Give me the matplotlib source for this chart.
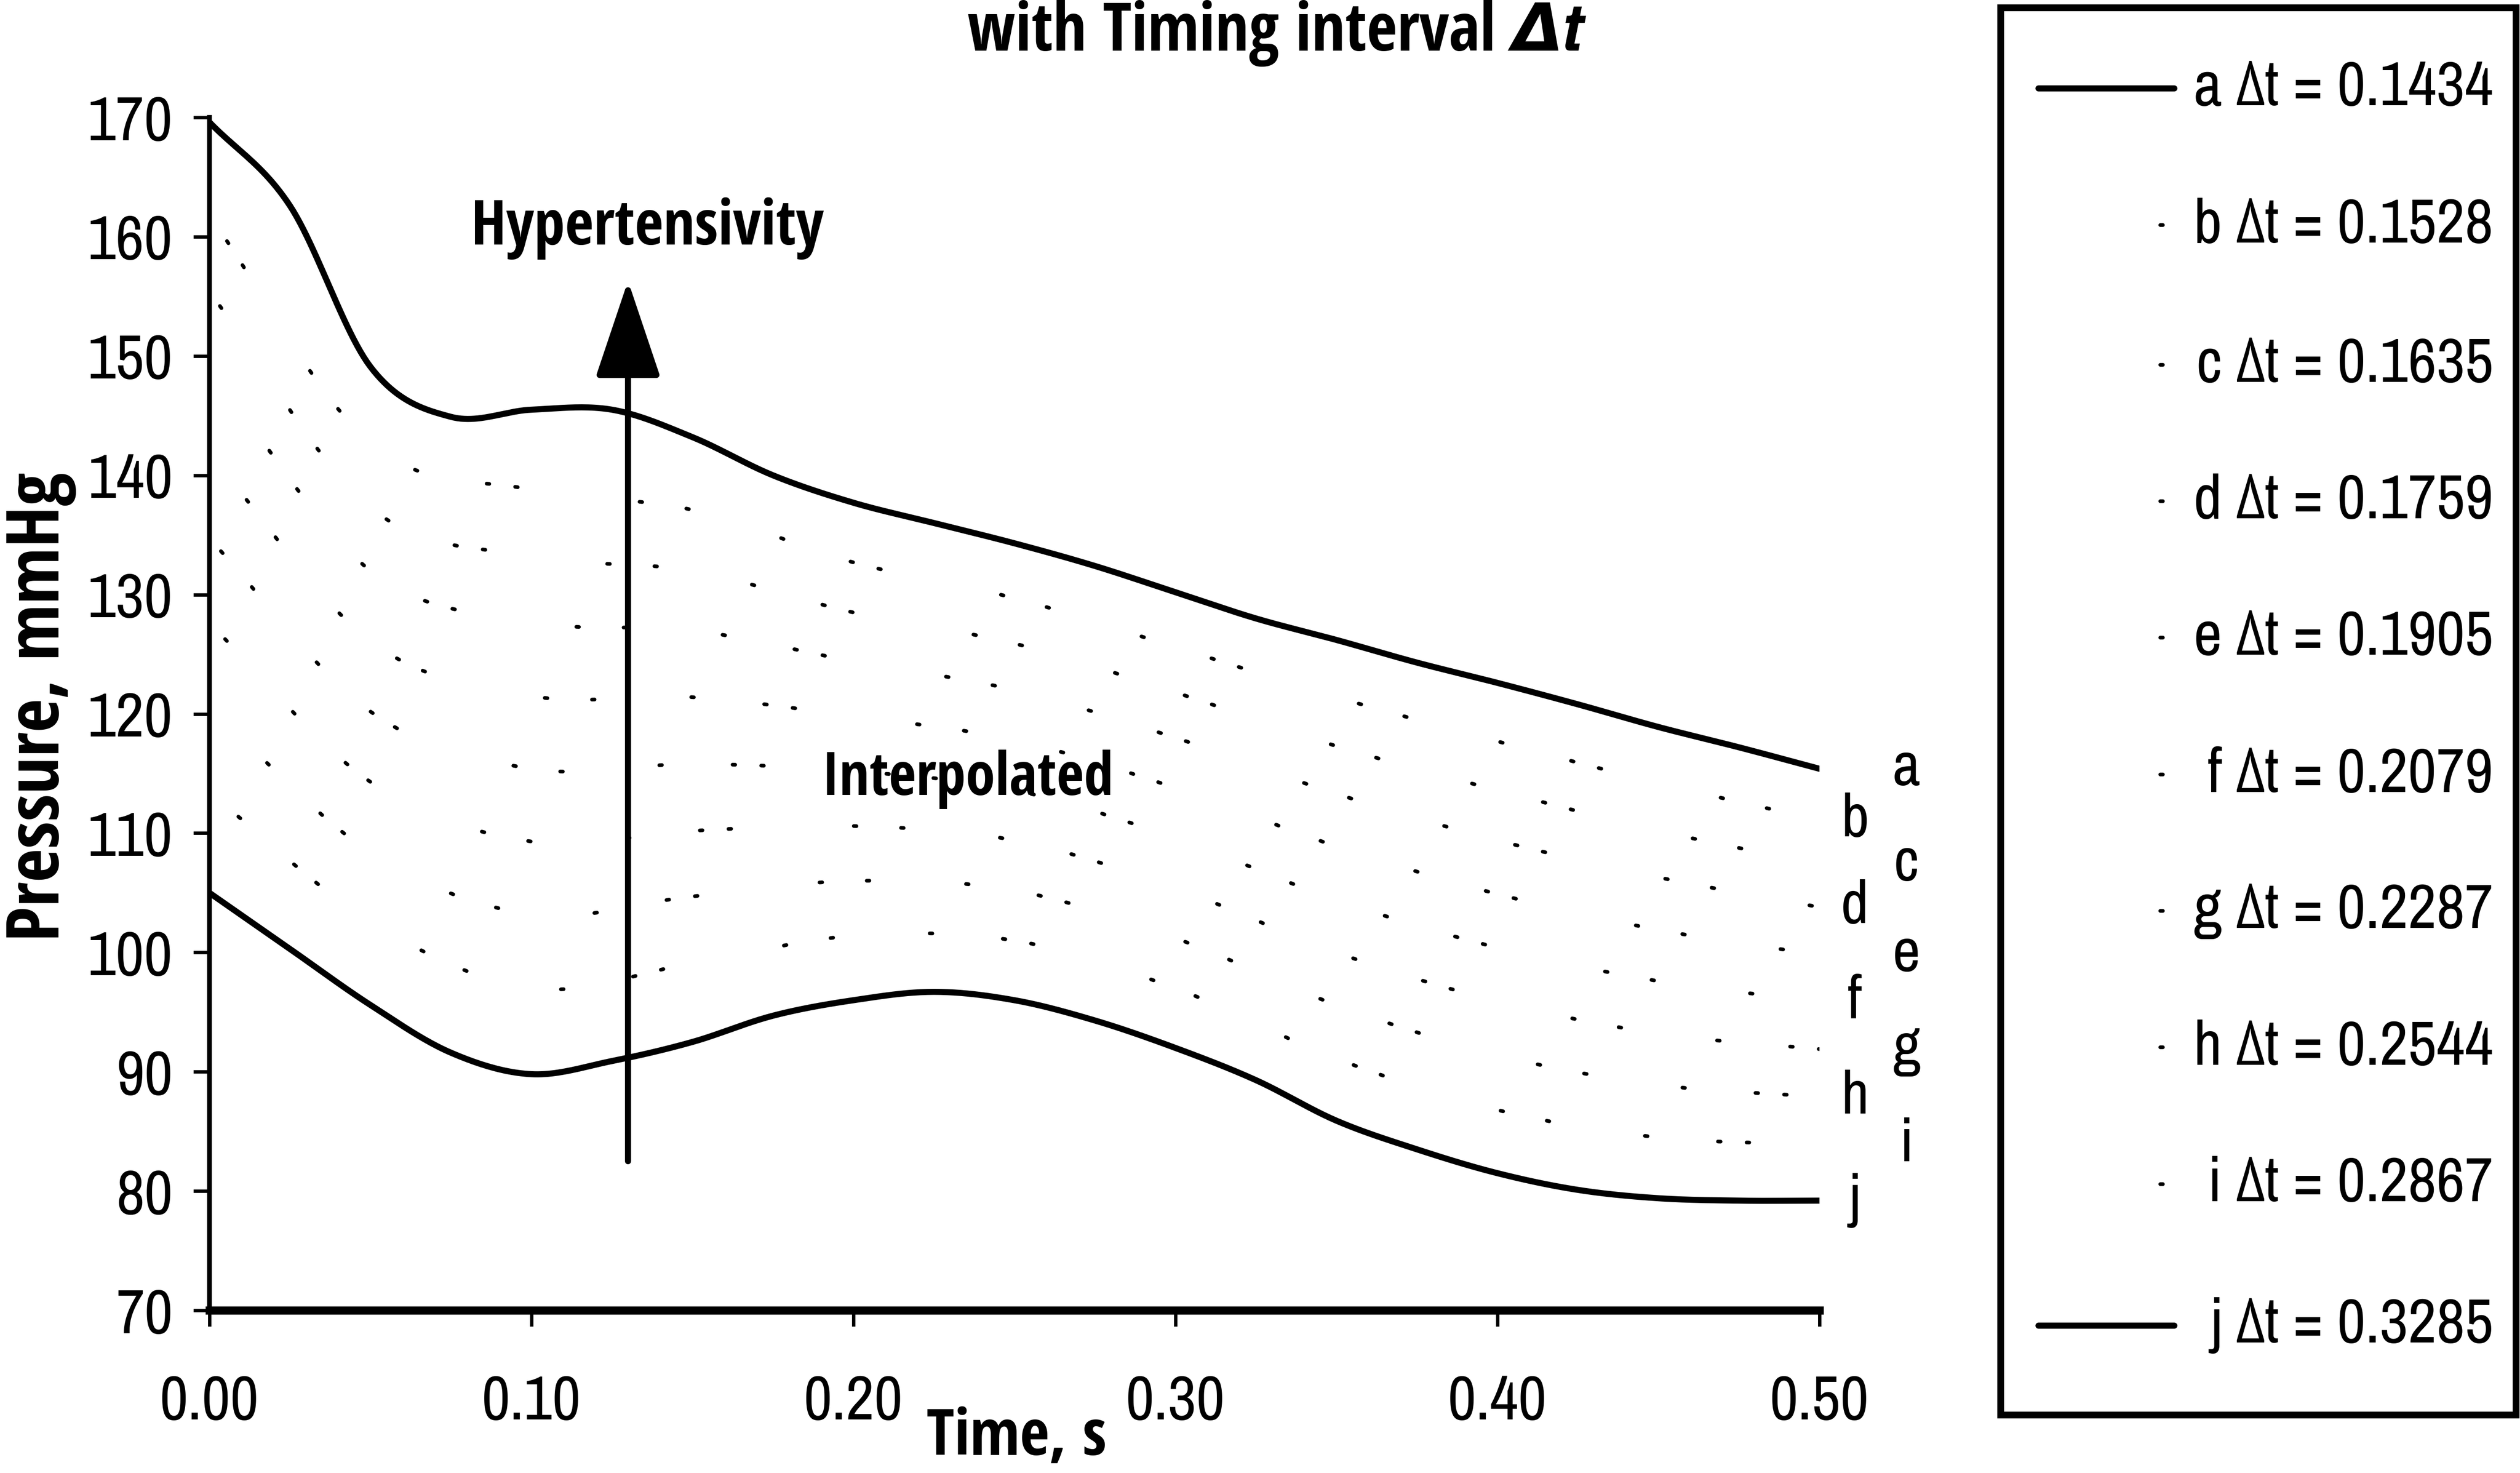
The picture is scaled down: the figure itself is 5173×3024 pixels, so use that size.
import numpy as np
import matplotlib.pyplot as plt
from matplotlib.lines import Line2D
from matplotlib.patches import Rectangle

plt.rcParams['font.family'] = ['Liberation Sans Narrow', 'Arial Narrow', 'Archivo Narrow',
                               'PT Sans Narrow', 'Roboto Condensed',
                               'IBM Plex Sans Condensed', 'DejaVu Sans']
bold_family = ['Open Sans Condensed', 'IBM Plex Sans Condensed', 'DejaVu Sans']
italic_family = ['IBM Plex Sans Condensed', 'DejaVu Sans']

# pressure curves, mmHg
t_fine = np.arange(0, 0.5001, 0.025)
p_a = [169.6, 162.6, 149.1, 144.9, 145.5, 145.5, 143.2, 140.0, 137.7, 136.0, 134.3,
       132.4, 130.2, 128.0, 126.2, 124.3, 122.6, 120.8, 118.9, 117.2, 115.4]
p_j = [105.0, 100.3, 95.6, 91.6, 89.8, 90.9, 92.5, 94.7, 96.0, 96.7, 96.0,
       94.3, 92.0, 89.3, 85.9, 83.5, 81.5, 80.1, 79.4, 79.2, 79.2]

t_mid = np.arange(0, 0.5001, 0.05)
p_b = [161.8, 142.7, 138.8, 137.1, 132.7, 129.7, 125.6, 121.4, 117.7, 114.2, 111.1]
p_c = [155.4, 137.3, 133.2, 132.0, 128.5, 125.9, 121.8, 117.3, 113.6, 110.2, 107.4]
p_d = [148.9, 132.0, 127.7, 127.0, 124.4, 122.0, 118.0, 113.3, 109.4, 106.3, 103.8]
p_e = [141.8, 126.1, 121.5, 121.4, 119.8, 117.8, 113.8, 108.9, 104.9, 101.9, 99.8]
p_f = [134.7, 120.2, 115.4, 115.8, 115.2, 113.6, 109.6, 104.4, 100.4, 97.6, 95.9]
p_g = [127.6, 114.3, 109.3, 110.2, 110.6, 109.4, 105.4, 100.0, 95.9, 93.2, 91.9]
p_h = [120.5, 108.4, 103.2, 104.7, 106.0, 105.2, 101.2, 95.6, 91.4, 88.9, 87.9]
p_i = [113.4, 102.6, 97.0, 99.1, 101.4, 101.0, 97.0, 91.1, 86.8, 84.5, 83.9]

names = ['a', 'b', 'c', 'd', 'e', 'f', 'g', 'h', 'i', 'j']
dt = [0.1434, 0.1528, 0.1635, 0.1759, 0.1905, 0.2079, 0.2287, 0.2544, 0.2867, 0.3285]

x_ticks = [0.0, 0.1, 0.2, 0.3, 0.4, 0.5]
y_ticks = [70, 80, 90, 100, 110, 120, 130, 140, 150, 160, 170]


def smooth(x, y, n=24):
    # Catmull-Rom curve through the points
    x = np.asarray(x, float)
    y = np.asarray(y, float)
    px = np.concatenate([[2 * x[0] - x[1]], x, [2 * x[-1] - x[-2]]])
    py = np.concatenate([[2 * y[0] - y[1]], y, [2 * y[-1] - y[-2]]])
    s = np.linspace(0, 1, n, endpoint=False)
    xs, ys = [], []
    for k in range(1, len(px) - 2):
        for p, out in ((px, xs), (py, ys)):
            p0, p1, p2, p3 = p[k - 1], p[k], p[k + 1], p[k + 2]
            out.append(0.5 * (2 * p1 + (-p0 + p2) * s
                              + (2 * p0 - 5 * p1 + 4 * p2 - p3) * s ** 2
                              + (-p0 + 3 * p1 - 3 * p2 + p3) * s ** 3))
    xs.append([x[-1]])
    ys.append([y[-1]])
    return np.concatenate(xs), np.concatenate(ys)


fig = plt.figure(figsize=(51.73, 30.24), dpi=100)
ax = fig.add_axes([0.0831, 0.1104, 0.6389, 0.8099])

series = [(t_fine, p_a), (t_mid, p_b), (t_mid, p_c), (t_mid, p_d), (t_mid, p_e),
          (t_mid, p_f), (t_mid, p_g), (t_mid, p_h), (t_mid, p_i), (t_fine, p_j)]

# sparse, uneven dot patterns for the interpolated curves
dot_pattern = (0.7, 19, 0.7, 7, 0.7, 33, 0.7, 12, 0.7, 26)

styles = []
for k, (tt, pp) in enumerate(series):
    xs, ys = smooth(tt, pp)
    if k in (0, 9):
        st = dict(color='black', lw=9, solid_capstyle='round')
    else:
        st = dict(color='black', lw=5.5, dash_capstyle='round',
                  linestyle=(k * 11.3, dot_pattern))
    ax.plot(xs, ys, **st)
    styles.append(st)
    ax.text(0.527 if k % 2 == 0 else 0.511, pp[-1], names[k], fontsize=90,
            ha='center', va='center', clip_on=False)

ax.set_xlim(0, 0.5)
ax.set_ylim(70, 170)
ax.set_xticks(x_ticks)
ax.set_xticklabels([f'{v:.2f}' for v in x_ticks])
ax.set_yticks(y_ticks)
ax.spines['top'].set_visible(False)
ax.spines['right'].set_visible(False)
ax.spines['left'].set_linewidth(7)
ax.spines['bottom'].set_linewidth(12)
ax.tick_params(axis='y', direction='out', length=24, width=5, pad=30, labelsize=92)
ax.tick_params(axis='x', direction='out', length=24, width=5, pad=70, labelsize=92)

ax.annotate('', xy=(0.13, 156.3), xytext=(0.13, 82.5),
            arrowprops=dict(arrowstyle='-|>,head_length=1.25,head_width=0.42',
                            lw=9, color='black', mutation_scale=100,
                            shrinkA=0, shrinkB=0))
ax.text(0.136, 160.7, 'Hypertensivity', fontsize=92, fontweight='bold',
        family=bold_family, ha='center', va='center')
ax.text(0.2355, 114.5, 'Interpolated', fontsize=88, fontweight='bold',
        family=bold_family, ha='center', va='center')

fig.text(0.0159, 0.52, 'Pressure, mmHg', rotation=90, fontsize=108,
         fontweight='bold', family=bold_family, ha='center', va='center')
fig.text(0.4033, 0.0235, 'Time, s', fontsize=95, fontweight='bold',
         family=bold_family, ha='center', va='center')

fig.text(0.600, 0.9655, 'with Timing interval ', fontsize=98,
         fontweight='bold', family=bold_family, ha='right', va='baseline')
fig.text(0.600, 0.9655, 'Δt', fontsize=98, fontweight='bold',
         style='italic', family=italic_family, ha='left', va='baseline')

# legend box
fig.add_artist(Rectangle((0.794, 0.0394), 0.2045, 0.9553, transform=fig.transFigure,
                         fill=False, lw=10, edgecolor='black'))
row_y = 1 - np.array([181, 462, 749, 1029, 1309, 1590, 1870, 2150, 2431, 2721]) / 3024
for k in range(len(names)):
    st = dict(styles[k])
    if k not in (0, 9):
        st['linestyle'] = (28.3, dot_pattern)
    fig.add_artist(Line2D([0.8088, 0.8627], [row_y[k], row_y[k]],
                          transform=fig.transFigure, **st))
    fig.text(0.9894, row_y[k], f'{names[k]} Δt = {dt[k]:.4f}', fontsize=92,
             ha='right', va='center')

fig.savefig('out.png', dpi=100)
